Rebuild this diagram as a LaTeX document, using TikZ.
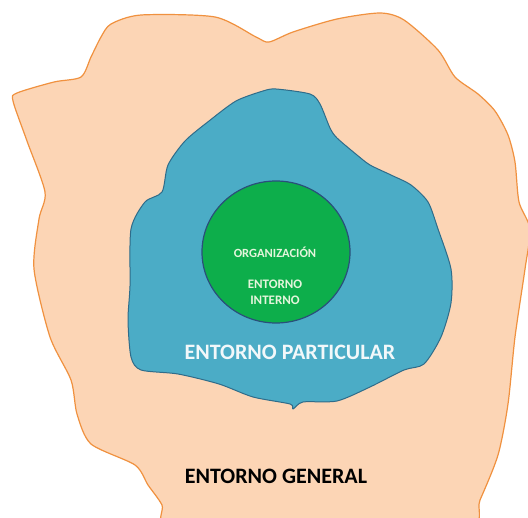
\documentclass[tikz,border=0pt]{standalone}
\usepackage{fontspec}
\setmainfont{Carlito}
\definecolor{genfill}{HTML}{FCD5B5}
\definecolor{genline}{HTML}{F0913F}
\definecolor{partfill}{HTML}{4BACC6}
\definecolor{partline}{HTML}{2F6C8A}
\definecolor{orgfill}{HTML}{0DAE4B}
\definecolor{orgline}{HTML}{2A4F7A}
\definecolor{orgtext}{HTML}{E4F5DC}
\definecolor{parttext}{HTML}{F2F8FA}
\tikzset{
  general/.style={fill=genfill,draw=genline,line width=1.2pt,line join=round},
  particular/.style={fill=partfill,draw=partline,line width=1pt,line join=round},
  orgcircle/.style={ellipse,fill=orgfill,draw=orgline,line width=1.2pt,minimum width=148pt,minimum height=142pt,inner sep=0pt},
  smalltxt/.style={font=\bfseries\fontsize{12.5}{14}\selectfont,text=orgtext,align=center},
  midtxt/.style={font=\bfseries\fontsize{13}{16}\selectfont,text=orgtext,align=center},
  bigtxt/.style={font=\bfseries\fontsize{22}{24}\selectfont},
}
\usetikzlibrary{shapes.geometric}
\begin{document}
\begin{tikzpicture}[x=1pt,y=-1pt]
\useasboundingbox (0,0) rectangle (528,518);
\fill[white] (0,0) rectangle (528,518);
% entorno general
\draw[general] plot[smooth cycle,tension=0.45] coordinates {
 (101,37) (111,24) (141,15) (215,17) (256,37) (269,42) (293,32) (337,19)
 (380,13) (404,20) (438,50) (455,77) (478,94) (495,111) (508,135) (515,162)
 (519,202) (530,229) (525,269) (515,337) (508,404) (498,455) (480,500)
 (465,530) (300,535) (170,530) (162,505) (148,485) (135,465) (91,444) (77,414)
 (71,380) (50,337) (34,269) (39,219) (45,192) (27,141) (13,101) (17,93)
 (54,82) (81,77) (91,57)};
% entorno particular
\draw[particular] plot[smooth cycle,tension=0.45] coordinates {
 (276,89) (310,94) (320,104) (330,128) (337,138) (357,155) (370,165)
 (391,175) (411,185) (428,202) (438,229) (451,269) (451,303) (441,337)
 (424,364) (404,370) (370,387) (337,401) (303,402) (293,409) (290,404)
 (253,397) (219,384) (178,374) (141,370) (131,357) (128,320) (130,286)
 (131,229) (145,202) (162,192) (168,165) (185,141) (209,121) (236,101) (263,91)};
\node[orgcircle] (org) at (276,252) {};
\node[smalltxt] (orgname) at (275,252) {ORGANIZACIÓN};
\node[midtxt] (interno) at (275,292) {ENTORNO\\INTERNO};
\node[bigtxt,text=parttext] (part) at (290,352) {ENTORNO PARTICULAR};
\node[bigtxt,text=black] (gen) at (276,476) {ENTORNO GENERAL};
\end{tikzpicture}
\end{document}
